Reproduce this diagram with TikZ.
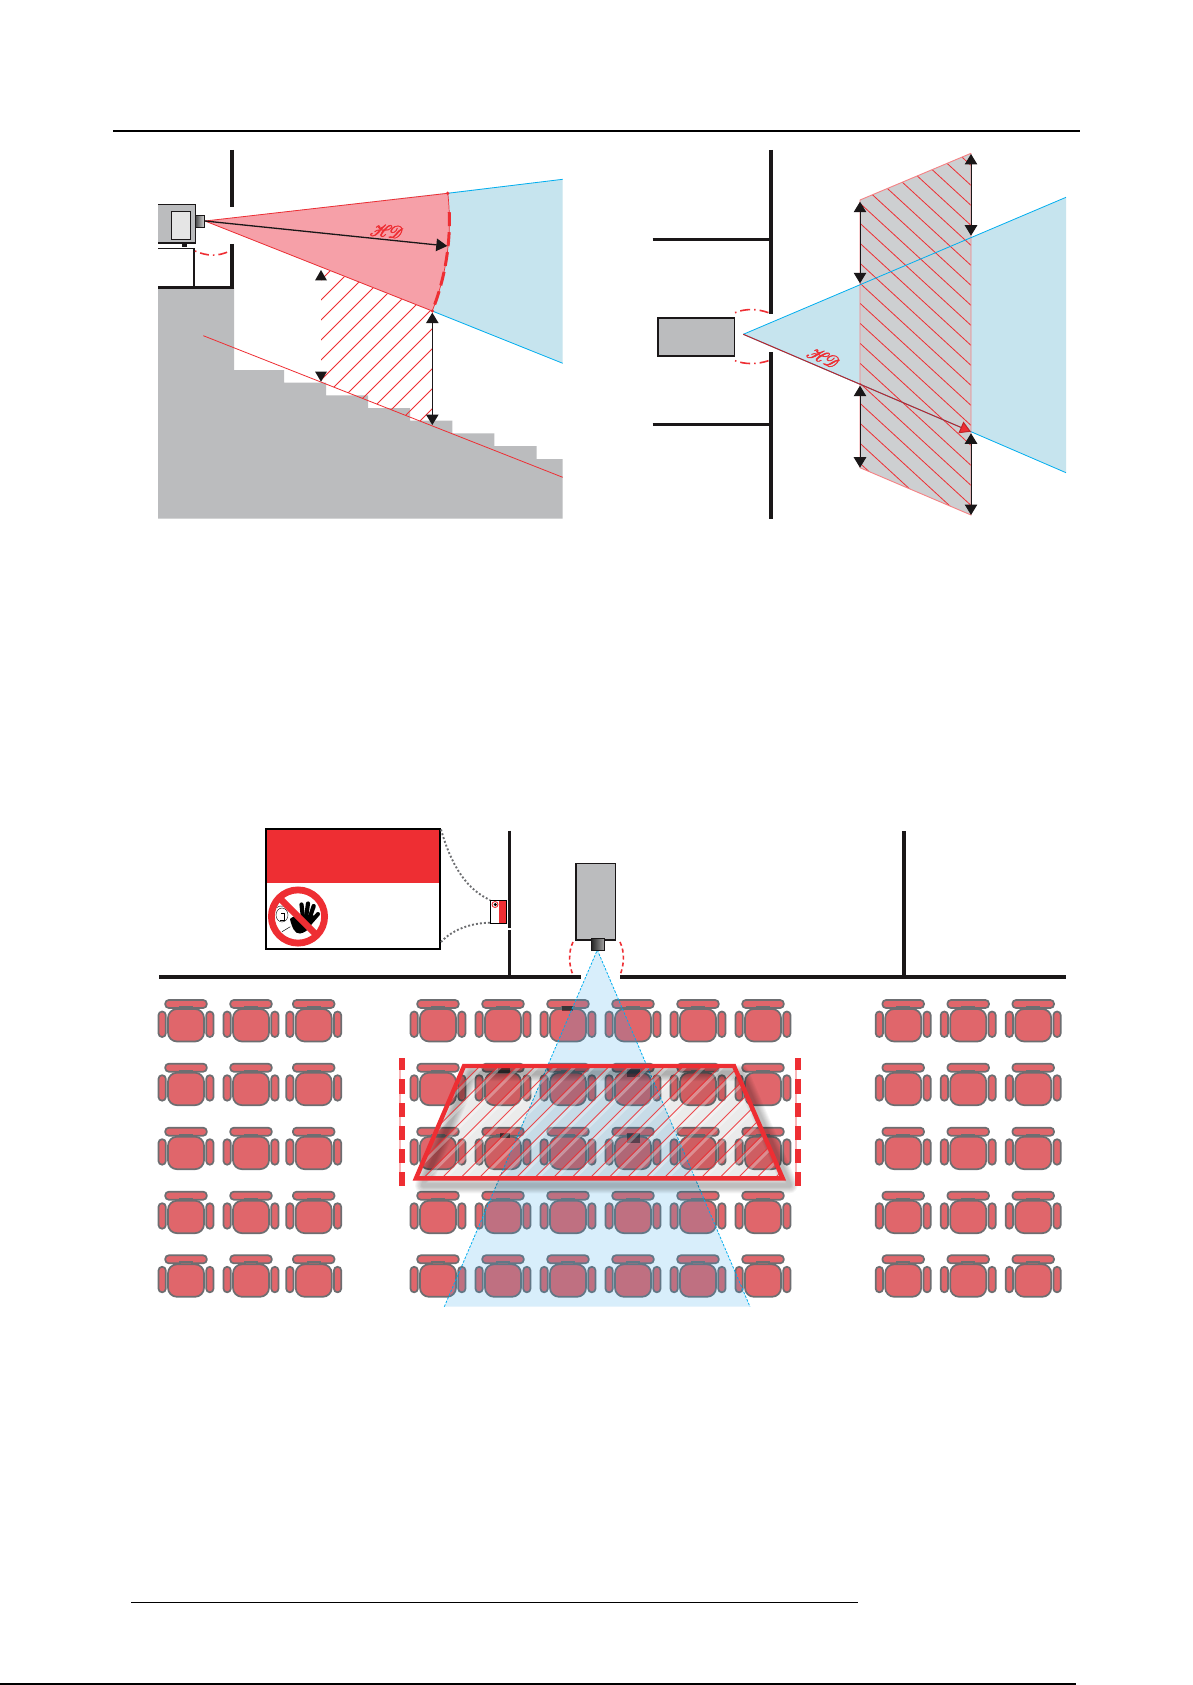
\documentclass[tikz,border=0pt]{standalone}
\usepackage{mathrsfs}
\usetikzlibrary{arrows.meta}
\definecolor{wallk}{HTML}{1A1718}
\definecolor{massgray}{HTML}{BBBCBE}
\definecolor{hatchgray}{HTML}{CDCFD1}
\definecolor{conered}{HTML}{F6A0A8}
\definecolor{coneblue}{HTML}{C6E4EE}
\definecolor{lineblue}{HTML}{00AEEF}
\definecolor{signred}{HTML}{EE2E33}
\definecolor{seatfill}{HTML}{E0666B}
\definecolor{seatline}{HTML}{6D6E71}
\definecolor{beamblue}{HTML}{2CA1E9}
\newcommand{\hdmark}{\fontsize{17}{17}\selectfont\special{pdf:code q 2 Tr 0.45 w}$\mathscr{H}\mkern-4mu\mathscr{D}$\special{pdf:code 0 Tr Q}}
\tikzset{
  wallline/.style={draw=wallk,line width=3.6pt},
  redthin/.style={draw=signred,line width=0.8pt},
  blueline/.style={draw=lineblue,line width=0.8pt},
  dimline/.style={draw=wallk,line width=1pt,{Triangle[width=12.5pt,length=10.5pt]}-{Triangle[width=12.5pt,length=10.5pt]}},
  chairpic/.pic={
    \fill[seatfill,draw=seatline,line width=1.7pt,rounded corners=3.6pt] (-20.8,-4) rectangle (20.8,4);
    \fill[seatfill,draw=seatline,line width=1.7pt] (-6,3) rectangle (6,7);
    \fill[seatfill,draw=seatline,line width=1.7pt,rounded corners=9pt] (-18,5) rectangle (18,37.5);
    \fill[seatfill,draw=seatline,line width=1.7pt,rounded corners=3.6pt] (-27.5,7.5) rectangle (-20.2,33);
    \fill[seatfill,draw=seatline,line width=1.7pt,rounded corners=3.6pt] (20.2,7.5) rectangle (27.5,33);
  }
}
\begin{document}
\begin{tikzpicture}[x=1pt,y=-1pt]
\useasboundingbox (0,0) rectangle (1192,1685);
\fill[white] (0,0) rectangle (1192,1685);
% page rules
\draw[black,line width=2pt] (113,131) -- (1080,131);
\draw[black,line width=1.5pt] (131,1602.5) -- (858,1602.5);
\draw[black,line width=1.6pt] (0,1684.2) -- (1076,1684.2);

%%%%%% LEFT PANEL
\fill[massgray] (158,288) -- (234,288) -- (234,370) -- (284,370) -- (284,382.7) -- (326,382.7)
  -- (326,395.3) -- (368,395.3) -- (368,408) -- (410,408) -- (410,420.7) -- (452.3,420.7)
  -- (452.3,433.3) -- (494.3,433.3) -- (494.3,446) -- (536.7,446) -- (536.7,459) -- (562.7,459)
  -- (562.7,518.7) -- (158,518.7) -- cycle;
\coordinate (apexL) at (205,221);
\coordinate (capT) at (447.7,193.3);
\coordinate (capB) at (432.3,311);
% hatch
\begin{scope}
  \clip (321,267) -- (capB) -- (432.3,425.9) -- (321,382) -- cycle;
  \foreach \s in {601,621,...,881} \draw[redthin] ({\s-255},255) -- ({\s-440},440);
\end{scope}
% slope line
\draw[redthin] (203.3,335.7) -- (562.7,477.3);
% cone
\fill[coneblue] (apexL) -- (562.7,179.3) -- (562.7,363.3) -- cycle;
\fill[conered] (apexL) -- plot[domain=-6.5:21.6,samples=30] ({205+244.4*cos(\x)},{221+244.4*sin(\x)}) -- cycle;
\draw[blueline] (capT) -- (562.7,179.3);
\draw[blueline] (capB) -- (562.7,363.3);
\draw[redthin] (capT) -- (apexL) -- (capB);
\draw[draw=signred,line width=0.7pt] plot[domain=-6.5:21.6,samples=30] ({205+244.4*cos(\x)},{221+244.4*sin(\x)});
\draw[draw=signred,line width=3pt,dash pattern=on 14pt off 6pt,dash phase=-4pt] plot[domain=-3:21.2,samples=30] ({205+244.4*cos(\x)},{221+244.4*sin(\x)});
\fill[signred] (capT) circle (1.8);
\fill[signred] (capB) circle (1.8);
\node[signred,rotate=-5,inner sep=0] (hdL) at (386.7,231) {\hdmark};
\coordinate (hdtip) at (447.3,246);
\draw[draw=wallk,line width=1.3pt,-{Triangle[width=12.5pt,length=11pt]}] (apexL) -- (hdtip);
% projector
\fill[massgray] (158,204.5) rectangle (195.5,243);
\draw[wallk,line width=1.6pt] (158,204.5) -- (195.5,204.5) -- (195.5,243) -- (158,243);
\fill[white!90!black,draw=wallk,line width=0.9pt] (171,211) rectangle (190.7,239.3);
\draw[draw=wallk,line width=1pt,left color=black!70,right color=black!15] (195.7,215.5) rectangle (204.5,227.5);
\fill[wallk] (182,243) rectangle (186.5,247);
% walls
\draw[wallline] (232,150) -- (232,207.5);
\draw[wallline] (232,244) -- (232,288);
\draw[wallk,line width=3.4pt] (158,287.7) -- (233.8,287.7);
\draw[wallk,line width=1.4pt] (158,248.3) -- (194,248.3);
\draw[wallk,line width=1.4pt] (193.8,248.3) -- (193.8,287);
\draw[draw=signred,line width=1.6pt,dash pattern=on 1.5pt off 4pt on 9pt off 4pt] (195,251) .. controls (208,256.5) and (218,256.5) .. (230,251);
% dim arrows
\fill[wallk] (321,270) -- (327,280.5) -- (315,280.5) -- cycle;
\fill[wallk] (321,381.7) -- (327,371.5) -- (315,371.5) -- cycle;
\coordinate (dLt) at (432.3,312.7);
\coordinate (dLb) at (432.3,425);
\draw[dimline] (dLt) -- (dLb);

%%%%%% RIGHT PANEL
\coordinate (apexR) at (743.3,334.3);
\coordinate (rT) at (971,238);
\coordinate (rB) at (971,431.7);
\fill[coneblue] (apexR) -- (1066,197.3) -- (1066,472.7) -- cycle;
\fill[hatchgray] (860,200) -- (971,153.3) -- (971,515) -- (860,467.7) -- cycle;
\begin{scope}
  \clip (860,200) -- (971,153.3) -- (971,515) -- (860,467.7) -- cycle;
  \foreach \k in {-9,...,14} \draw[redthin] (860,{223.3+20*\k}) -- (971,{223.3+20*\k+102.1});
\end{scope}
\draw[draw=signred!60!white,line width=0.9pt] (860,200) -- (971,153.3);
\draw[draw=signred!60!white,line width=0.9pt] (971,153.3) -- (971,515) -- (860,467.7) -- (860,200);
\draw[blueline] (apexR) -- (1066,197.3);
\draw[blueline] (rB) -- (1066,472.7);
\draw[blueline] (apexR) -- (rB);
\draw[draw=signred!80!black,line width=1pt,-{Triangle[width=12.5pt,length=11pt,fill=signred]}] (apexR) -- (rB);
\node[signred,rotate=-23,inner sep=0] (hdR) at (823.3,357.3) {\hdmark};
\fill[massgray,draw=wallk,line width=1.8pt] (657.8,318) rectangle (734.5,356.3);
\draw[wallline] (771,150) -- (771,314);
\draw[wallline] (771,352.3) -- (771,518.7);
\draw[wallk,line width=3pt] (652.7,239.3) -- (771,239.3);
\draw[wallk,line width=3pt] (652.7,424) -- (771,424);
\draw[draw=signred,line width=1.6pt,dash pattern=on 1.5pt off 4pt on 10pt off 4pt] (735,312.7) .. controls (745,308.5) and (757,308.5) .. (768.5,312.7);
\draw[draw=signred,line width=1.6pt,dash pattern=on 1.5pt off 4pt on 10pt off 4pt] (735,360.7) .. controls (745,364.5) and (757,364.5) .. (768.5,360.7);
\coordinate (a1) at (860,201.7); \coordinate (a2) at (860,283.3);
\coordinate (a3) at (860,385.7); \coordinate (a4) at (860,467.7);
\coordinate (b1) at (971,154);   \coordinate (b2) at (971,235.7);
\coordinate (b3) at (971,433.3); \coordinate (b4) at (971,515);
\draw[dimline] (a1) -- (a2);
\draw[dimline] (a3) -- (a4);
\draw[dimline] (b1) -- (b2);
\draw[dimline] (b3) -- (b4);

%%%%%% BOTTOM PANEL
% floor and walls
\draw[wallk,line width=3.6pt] (159,976.7) -- (581,976.7);
\draw[wallk,line width=3.6pt] (620,976.7) -- (1066,976.7);
\draw[wallk,line width=3pt] (509.7,830.7) -- (509.7,928);
\draw[wallk,line width=3pt] (509.7,930) -- (509.7,976);
\draw[wallk,line width=3.2pt] (904,831) -- (904,976);
% sign
\fill[white] (265.7,829) rectangle (440,949);
\fill[signred] (265.7,829) rectangle (440,882.7);
\draw[black,line width=1.6pt] (265.7,829) rectangle (440,949);
\node[circle,fill=white,minimum size=58pt,inner sep=0] (nosign) at (298,916.5) {};
% face
\draw[black,line width=0.4pt] (282,915) ellipse (6 and 7);
\draw[black,line width=0.4pt] (281,913) -- (284,913) -- (284,920) -- (280,920);
\draw[black,line width=0.4pt] (276,908) .. controls (280,904) and (288,906) .. (292,912);
\draw[black,line width=0.5pt] (282,931.7) -- (290.3,926.7);
% hand
\fill[black] (290,919) .. controls (294,914) and (312,914) .. (315,916) .. controls (312,926) and (308,932) .. (300,933.5) .. controls (295,934) and (292,928) .. (290,919) -- cycle;
\draw[black,line width=4.2pt,line cap=round] (303,918) -- (301.5,904.5);
\draw[black,line width=4.2pt,line cap=round] (306,918) -- (308,903.5);
\draw[black,line width=4.2pt,line cap=round] (309,920) -- (313.7,906);
\draw[black,line width=4pt,line cap=round] (311,922) -- (318,914);
% no-entry ring
\draw[signred,line width=6.8pt] (298,916.5) circle (26.6);
\draw[signred,line width=6.5pt] (279,897.5) -- (317,935.5);
% mini sign
\fill[white] (490.3,900) rectangle (506.7,923.3);
\fill[signred] (498.5,900) rectangle (506.7,923.3);
\draw[black,line width=0.9pt] (490.3,900) rectangle (506.7,923.3);
\draw[signred,line width=0.9pt] (495,904.5) circle (3);
\fill[black] (495.3,904.5) circle (1.7);
% dotted leaders
\draw[draw=seatline,line width=1.9pt,dash pattern=on 1.9pt off 2.1pt] (441,829.5) .. controls (452,868) and (468,890) .. (490,900);
\draw[draw=seatline,line width=1.9pt,dash pattern=on 1.9pt off 2.1pt] (441,942) .. controls (452,930) and (470,923) .. (490,922.7);
% chairs
\foreach \cy in {1004,1067.7,1131.7,1195.7,1259.3} {
  \foreach \cx in {186,251,313.7,438,503,568,633,698,763,903.2,968.2,1033.2} {
    \pic at (\cx,\cy) {chairpic};
  }
}
% dark patches on chairs
\foreach \px/\py/\qx/\qy in {561.7/1006/573.3/1010.7, 498.3/1068.3/510/1073.3, 627.3/1069.3/640/1077.3, 500/1133.3/510/1138.3, 627.3/1133.3/640/1143.3}
  \fill[black,opacity=0.5] (\px,\py) rectangle (\qx,\qy);
% cone
\coordinate (apexB) at (597.3,950);
\fill[beamblue,opacity=0.18] (apexB) -- (750,1306.7) -- (444.3,1306.7) -- cycle;
\draw[draw=lineblue,line width=0.8pt,dash pattern=on 2.5pt off 1.5pt] (444.3,1306.7) -- (apexB) -- (750,1306.7);
% projector
\fill[massgray,draw=wallk,line width=1.5pt] (576,863.3) rectangle (615.7,940);
\draw[draw=wallk,line width=1.2pt,left color=black!85,right color=black!35] (591.5,938.5) rectangle (604.5,950.3);
\draw[draw=signred,line width=1.6pt,dash pattern=on 4pt off 3pt] (573,942) .. controls (568,952) and (569,966) .. (573,975);
\draw[draw=signred,line width=1.6pt,dash pattern=on 4pt off 3pt] (620,942) .. controls (625,952) and (624,966) .. (620,975);
% trapezoid shadow
\foreach \w in {16,14,12,10,8,6,4} {
  \draw[black,opacity=0.04,line width=\w pt,line join=round] (471,1073) -- (741,1073) -- (789.7,1185.3) -- (423,1185.3) -- cycle;
}
\coordinate (tzA) at (464,1066);
\coordinate (tzB) at (734,1066);
\coordinate (tzC) at (782.7,1178.3);
\coordinate (tzD) at (416,1178.3);
\fill[black,opacity=0.08] (tzA) -- (tzB) -- (tzC) -- (tzD) -- cycle;
\begin{scope}
  \clip (tzA) -- (tzB) -- (tzC) -- (tzD) -- cycle;
  \foreach \s in {1527.5,1546,...,1965} {
    \draw[draw=white,line width=3pt,opacity=0.3] ({\s+3-1060},1060) -- ({\s+3-1185},1185);
    \draw[draw=signred,line width=0.8pt,opacity=0.85] ({\s-1060},1060) -- ({\s-1185},1185);
  }
\end{scope}
\draw[draw=signred,line width=4.4pt,line join=miter] (tzA) -- (tzB) -- (tzC) -- (tzD) -- cycle;
% barriers
\foreach \bx in {402,797.8} {
  \fill[signred] ({\bx-3},1057.5) rectangle ({\bx+3},1186);
  \foreach \wy in {1070,1093.5,1116.5,1140,1163} {
    \fill[signred!35!white] ({\bx-3},\wy) rectangle ({\bx+3},{\wy+9});
    \fill[white] ({\bx-1},\wy) rectangle ({\bx+3},{\wy+9});
  }
}
\end{tikzpicture}
\end{document}
